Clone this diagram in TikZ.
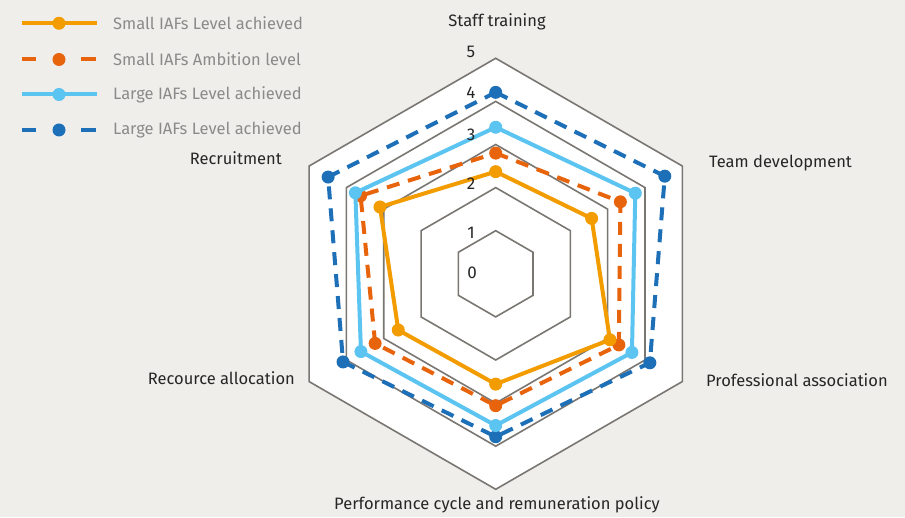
\documentclass[tikz,border=0pt]{standalone}
\usepackage{fontspec}
\setmainfont{Fira Sans}
\usetikzlibrary{calc}
\definecolor{bgc}{HTML}{EFEEEA}
\definecolor{gridc}{HTML}{7A7773}
\definecolor{sach}{HTML}{F39C00}
\definecolor{samb}{HTML}{E8640C}
\definecolor{lach}{HTML}{5BC4F1}
\definecolor{lamb}{HTML}{1D70B7}
\definecolor{txtc}{HTML}{262626}
\definecolor{legc}{HTML}{8A8A8A}
\tikzset{
  gridline/.style={draw=gridc, line width=1.6pt, line join=miter},
  solidline/.style={line width=4pt, line join=round},
  dashline/.style={line width=4pt, dash pattern=on 13pt off 9pt, line join=round},
  axlab/.style={font=\fontsize{16.5}{18}\selectfont, text=txtc, inner sep=0pt},
  numlab/.style={font=\fontsize{17}{18}\selectfont, text=txtc, inner sep=0pt},
  leglab/.style={font=\fontsize{16.5}{18}\selectfont, text=legc, inner sep=0pt, anchor=west},
}
\begin{document}
\begin{tikzpicture}[x=1pt,y=1pt]
\useasboundingbox (0,0) rectangle (905,517);
\fill[bgc] (0,0) rectangle (905,517);
\coordinate (C) at (495.7,243.2);
\begin{scope}[shift={(C)}]
  \fill[white] (90:215.5) -- (30:215.5) -- (-30:215.5) -- (-90:215.5) -- (210:215.5) -- (150:215.5) -- cycle;
  \foreach \l in {1,...,5}{
    \draw[gridline] (90:{\l*43.1}) -- (30:{\l*43.1}) -- (-30:{\l*43.1}) -- (-90:{\l*43.1}) -- (210:{\l*43.1}) -- (150:{\l*43.1}) -- cycle;
  }
  % large ambition (dark blue dashed)
  \draw[dashline, lamb] (90:{4.21*43.1}) -- (30:{4.53*43.1}) -- (-30:{4.13*43.1}) -- (-90:{3.78*43.1}) -- (210:{4.09*43.1}) -- (150:{4.49*43.1}) -- cycle;
  \foreach \ang/\v in {90/4.21,30/4.53,-30/4.13,-90/3.78,210/4.09,150/4.49}
    \fill[lamb] (\ang:{\v*43.1}) circle (6.5);
  % small ambition (dark orange dashed)
  \draw[dashline, samb] (90:{2.80*43.1}) -- (30:{3.34*43.1}) -- (-30:{3.30*43.1}) -- (-90:{3.06*43.1}) -- (210:{3.23*43.1}) -- (150:{3.62*43.1}) -- cycle;
  \foreach \ang/\v in {90/2.80,30/3.34,-30/3.30,-90/3.06,210/3.23,150/3.62}
    \fill[samb] (\ang:{\v*43.1}) circle (6.5);
  % large achieved (light blue)
  \draw[solidline, lach] (90:{3.40*43.1}) -- (30:{3.74*43.1}) -- (-30:{3.65*43.1}) -- (-90:{3.52*43.1}) -- (210:{3.61*43.1}) -- (150:{3.76*43.1}) -- cycle;
  \foreach \ang/\v in {90/3.40,30/3.74,-30/3.65,-90/3.52,210/3.61,150/3.76}
    \fill[lach] (\ang:{\v*43.1}) circle (6.5);
  % small achieved (orange)
  \draw[solidline, sach] (90:{2.37*43.1}) -- (30:{2.57*43.1}) -- (-30:{3.06*43.1}) -- (-90:{2.56*43.1}) -- (210:{2.61*43.1}) -- (150:{3.10*43.1}) -- cycle;
  \foreach \ang/\v in {90/2.37,30/2.57,-30/3.06,-90/2.56,210/2.61,150/3.10}
    \fill[sach] (\ang:{\v*43.1}) circle (6.5);
\end{scope}
% scale numbers
\node[numlab] (n5) at (471,465) {5};
\node[numlab] (n4) at (471,424) {4};
\node[numlab] (n3) at (471,382) {3};
\node[numlab] (n2) at (471,333) {2};
\node[numlab] (n1) at (471,284) {1};
\node[numlab] (n0) at (472,244) {0};
% axis labels
\node[axlab] (staff) at (497,495) {Staff training};
\node[axlab, anchor=west] (team) at (709,354) {Team development};
\node[axlab, anchor=west] (prof) at (706,137) {Professional association};
\node[axlab] (perf) at (497,12) {Performance cycle and remuneration policy};
\node[axlab, anchor=east] (res) at (295,139) {Recource allocation};
\node[axlab, anchor=east] (recr) at (282,359) {Recruitment};
% legend
\draw[line width=4pt, sach] (22,493.7) -- (97,493.7);
\fill[sach] (59,493.7) circle (6.5);
\node[leglab] (l1) at (113,493.7) {Small IAFs Level achieved};
\draw[line width=4pt, samb] (22,457.5) -- (36,457.5) (81,457.5) -- (96,457.5);
\fill[samb] (59,457.5) circle (6.5);
\node[leglab] (l2) at (113,457.5) {Small IAFs Ambition level};
\draw[line width=4pt, lach] (22,422.5) -- (97,422.5);
\fill[lach] (59,422.5) circle (6.5);
\node[leglab] (l3) at (113,422.5) {Large IAFs Level achieved};
\draw[line width=4pt, lamb] (22,387) -- (36,387) (81,387) -- (96,387);
\fill[lamb] (59,387) circle (6.5);
\node[leglab] (l4) at (113,387) {Large IAFs Level achieved};
\end{tikzpicture}
\end{document}
